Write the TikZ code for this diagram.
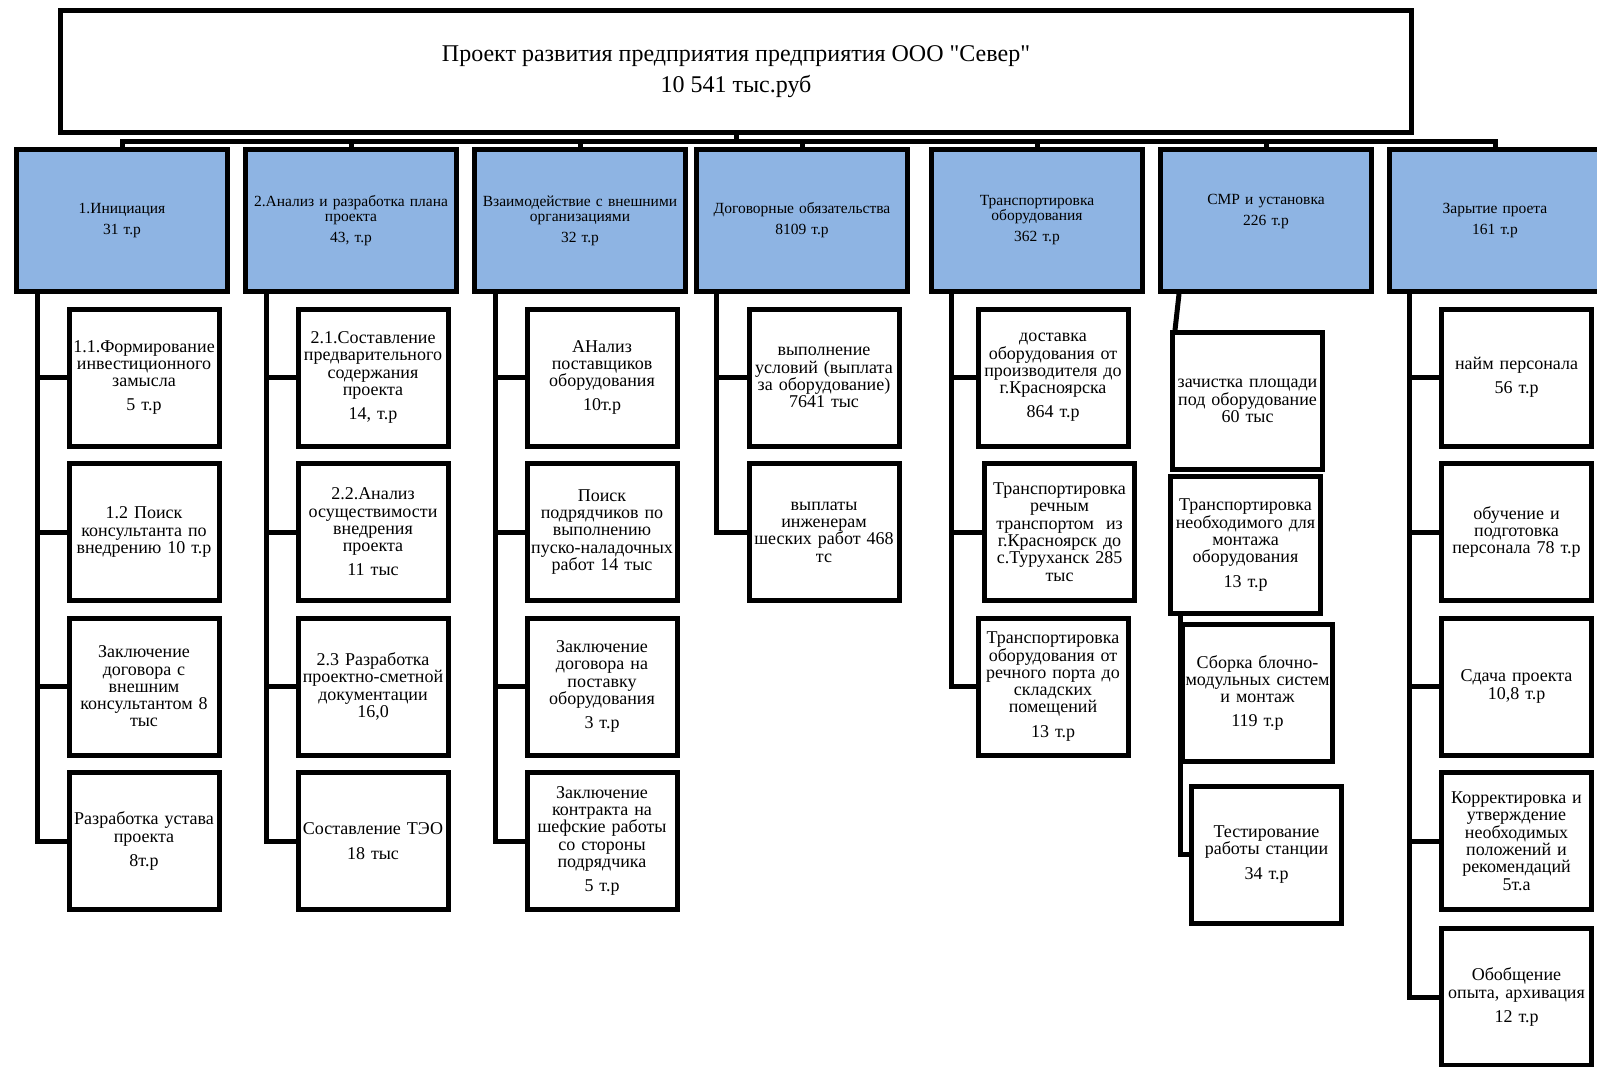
\documentclass[tikz,border=0pt]{standalone}
\usepackage{fontspec}
\setmainfont{Liberation Serif}
\usepackage{xcolor}
\usepackage{tikz}
\definecolor{phaseblue}{RGB}{142,180,227}

\begin{document}
\begin{tikzpicture}[x=1pt,y=-1pt,
top/.style={rectangle, draw, line width=5pt, minimum width=1351pt, minimum height=122pt, align=center, font=\fontsize{24}{31}\selectfont},
phase/.style={rectangle, draw, fill=phaseblue, line width=5pt, minimum width=211pt, minimum height=142pt, inner sep=0pt, text width=207pt, align=center, font=\fontsize{15.5}{15}\selectfont},
task/.style={rectangle, draw, line width=5pt, minimum width=150pt, minimum height=137pt, inner sep=0pt, text width=150pt, align=center, font=\fontsize{18}{17.3}\selectfont},
link/.style={line width=5pt}]
\useasboundingbox (0,0) rectangle (1597,1066);
\clip (0,0) rectangle (1597,1066);
\node at (736,71.5)[top](root){Проект развития предприятия предприятия ООО \textquotedbl Север\textquotedbl\\10 541 тыс.руб};
\coordinate (bus) at (736,141);
\node at (122,220.5)[phase](p1){1.Инициация\\[6pt]31 т.р};
\node at (351,220.5)[phase](p2){2.Анализ и разработка плана\\проекта\\[6pt]43, т.р};
\node at (580,220.5)[phase](p3){Взаимодействие с внешними\\организациями\\[6pt]32 т.р};
\node at (802,220.5)[phase](p4){Договорные обязательства\\[6pt]8109 т.р};
\node at (1037,220.5)[phase](p5){Транспортировка\\оборудования\\[6pt]362 т.р};
\node at (1266,220.5)[phase](p6){СМР и установка\\[6pt]226 т.р\\[6pt]\mbox{}};
\node at (1495,220.5)[phase](p7){Зарытие проета\\[6pt]161 т.р};
\node at (144,377.5)[task](a1){1.1.Формирование\\инвестиционного\\замысла\\[7pt]5 т.р};
\node at (144,532)[task](a2){1.2 Поиск\\консультанта по\\внедрению 10 т.р};
\node at (144,686.5)[task](a3){Заключение\\договора с\\внешним\\консультантом 8\\тыс};
\node at (144,841)[task](a4){Разработка устава\\проекта\\[7pt]8т.р};
\node at (373,377.5)[task](b1){2.1.Составление\\предварительного\\содержания\\проекта\\[7pt]14, т.р};
\node at (373,532)[task](b2){2.2.Анализ\\осуществимости\\внедрения\\проекта\\[7pt]11 тыс};
\node at (373,686.5)[task](b3){2.3 Разработка\\проектно-сметной\\документации\\16,0};
\node at (373,841)[task](b4){Составление ТЭО\\[7pt]18 тыс};
\node at (602,377.5)[task](c1){АНализ\\поставщиков\\оборудования\\[7pt]10т.р};
\node at (602,532)[task](c2){Поиск\\подрядчиков по\\выполнению\\пуско-наладочных\\работ 14 тыс};
\node at (602,686.5)[task](c3){Заключение\\договора на\\поставку\\оборудования\\[7pt]3 т.р};
\node at (602,841)[task](c4){Заключение\\контракта на\\шефские работы\\со стороны\\подрядчика\\[7pt]5 т.р};
\node at (824,377.5)[task](d1){выполнение\\условий (выплата\\за оборудование)\\7641 тыс};
\node at (824,532)[task](d2){выплаты\\инженерам\\шеских работ 468\\тс};
\node at (1053,377.5)[task](e1){доставка\\оборудования от\\производителя до\\г.Красноярска\\[7pt]864 т.р};
\node at (1059.5,532)[task](e2){Транспортировка\\речным\\транспортом~ из\\г.Красноярск до\\с.Туруханск 285\\тыс};
\node at (1053,686.5)[task](e3){Транспортировка\\оборудования от\\речного порта до\\складских\\помещений\\[7pt]13 т.р};
\node at (1247.5,401)[task](f1){зачистка площади\\под оборудование\\60 тыс};
\node at (1245.5,545)[task](f2){Транспортировка\\необходимого для\\монтажа\\оборудования\\[7pt]13 т.р};
\node at (1257.5,693)[task](f3){Сборка блочно-\\модульных систем\\и монтаж\\[7pt]119 т.р};
\node at (1266.5,854.5)[task](f4){Тестирование\\работы станции\\[7pt]34 т.р};
\node at (1516.5,377.5)[task](g1){найм персонала\\[7pt]56 т.р};
\node at (1516.5,532)[task](g2){обучение и\\подготовка\\персонала 78 т.р};
\node at (1516.5,686.5)[task](g3){Сдача проекта\\10,8 т.р};
\node at (1516.5,841)[task](g4){Корректировка и\\утверждение\\необходимых\\положений и\\рекомендаций\\5т.а};
\node at (1516.5,997)[task](g5){Обобщение\\опыта, архивация\\[7pt]12 т.р};
\draw (root.south)[link] -- (bus);
\draw (bus)[link] -| (p1.north);
\draw (bus)[link] -| (p2.north);
\draw (bus)[link] -| (p3.north);
\draw (bus)[link] -| (p4.north);
\draw (bus)[link] -| (p5.north);
\draw (bus)[link] -| (p6.north);
\draw (bus)[link] -| (p7.north);
\draw ([xshift=23pt]p1.south west)[link] |- (a1.west);
\draw ([xshift=23pt]p1.south west)[link] |- (a2.west);
\draw ([xshift=23pt]p1.south west)[link] |- (a3.west);
\draw ([xshift=23pt]p1.south west)[link] |- (a4.west);
\draw ([xshift=23pt]p2.south west)[link] |- (b1.west);
\draw ([xshift=23pt]p2.south west)[link] |- (b2.west);
\draw ([xshift=23pt]p2.south west)[link] |- (b3.west);
\draw ([xshift=23pt]p2.south west)[link] |- (b4.west);
\draw ([xshift=23pt]p3.south west)[link] |- (c1.west);
\draw ([xshift=23pt]p3.south west)[link] |- (c2.west);
\draw ([xshift=23pt]p3.south west)[link] |- (c3.west);
\draw ([xshift=23pt]p3.south west)[link] |- (c4.west);
\draw ([xshift=22pt]p4.south west)[link] |- (d1.west);
\draw ([xshift=22pt]p4.south west)[link] |- (d2.west);
\draw ([xshift=22pt]p5.south west)[link] |- (e1.west);
\draw ([xshift=22pt]p5.south west)[link] |- (e2.west);
\draw ([xshift=22pt]p5.south west)[link] |- (e3.west);
\draw ([xshift=21pt]p6.south west)[link] -- ([xshift=5pt]f1.north west);
\draw ([xshift=12pt]f2.south west)[link] |- (f4.west);
\draw ([xshift=22pt]p7.south west)[link] |- (g1.west);
\draw ([xshift=22pt]p7.south west)[link] |- (g2.west);
\draw ([xshift=22pt]p7.south west)[link] |- (g3.west);
\draw ([xshift=22pt]p7.south west)[link] |- (g4.west);
\draw ([xshift=22pt]p7.south west)[link] |- (g5.west);
    \end{tikzpicture}
\end{document}
